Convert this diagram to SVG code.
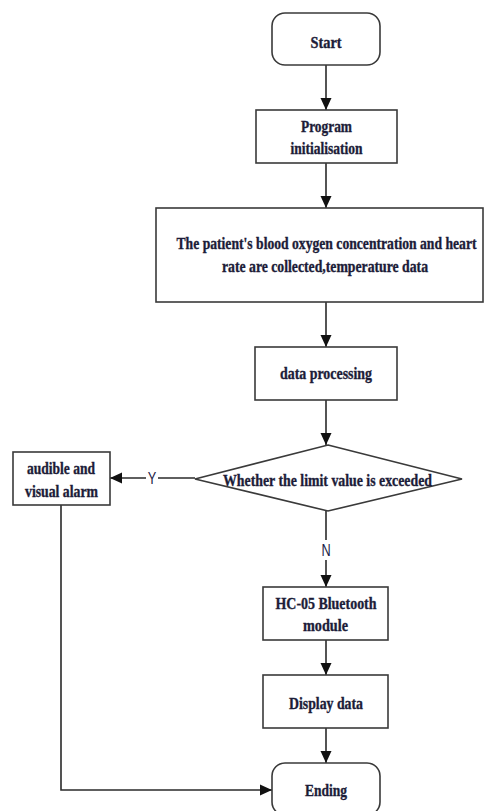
<svg xmlns="http://www.w3.org/2000/svg" width="485" height="811" viewBox="0 0 485 811">
<style>
.box{fill:#fff;stroke:#3a3a3a;stroke-width:1.6}
.t{font-family:"Liberation Serif",serif;font-weight:bold;font-size:16.5px;fill:#1c1c38;stroke:#1c1c38;stroke-width:0.35;text-anchor:middle;dominant-baseline:central}
.s{font-family:"Liberation Sans",sans-serif;font-size:17px;fill:#1c1c48;text-anchor:middle;dominant-baseline:central}
.c{fill:none;stroke:#2a2a2a;stroke-width:1.6}
</style>
<defs>
<marker id="ah" markerWidth="12" markerHeight="12" viewBox="0 0 12 12" refX="12" refY="6" orient="auto" markerUnits="userSpaceOnUse">
<path d="M0,0.5 L12,6 L0,11.5 Z" fill="#111"/>
</marker>
</defs>
<rect width="485" height="811" fill="#fff"/>
<g id="connectors">
<line class="c" x1="326" y1="65" x2="326" y2="110" marker-end="url(#ah)"/>
<line class="c" x1="326" y1="163" x2="326" y2="208" marker-end="url(#ah)"/>
<line class="c" x1="326" y1="302" x2="326" y2="347" marker-end="url(#ah)"/>
<line class="c" x1="326" y1="400" x2="326" y2="445" marker-end="url(#ah)"/>
<line class="c" x1="195" y1="478" x2="158" y2="478"/>
<line class="c" x1="146" y1="478" x2="110" y2="478" marker-end="url(#ah)"/>
<text class="s" x="152" y="478" transform="translate(152 0) scale(0.75 1) translate(-152 0)">Y</text>
<line class="c" x1="326" y1="511" x2="326" y2="540"/>
<text class="s" x="326" y="550" transform="translate(326 0) scale(0.75 1) translate(-326 0)">N</text>
<line class="c" x1="326" y1="560" x2="326" y2="587" marker-end="url(#ah)"/>
<line class="c" x1="326" y1="640" x2="326" y2="675" marker-end="url(#ah)"/>
<line class="c" x1="326" y1="728" x2="326" y2="763" marker-end="url(#ah)"/>
<polyline class="c" points="61,505 61,790 272,790" marker-end="url(#ah)"/>
</g>
<g id="start">
<rect class="box" x="272" y="13" width="108" height="52" rx="13"/>
<text class="t" x="326" y="42" textLength="31" lengthAdjust="spacingAndGlyphs">Start</text>
</g>
<g id="init">
<rect class="box" x="256" y="110" width="141" height="53"/>
<text class="t" x="326.5" y="126" textLength="51" lengthAdjust="spacingAndGlyphs">Program</text>
<text class="t" x="326.5" y="148" textLength="72" lengthAdjust="spacingAndGlyphs">initialisation</text>
</g>
<g id="collect">
<rect class="box" x="156" y="208" width="327" height="94"/>
<text class="t" x="326.5" y="243" textLength="300" lengthAdjust="spacingAndGlyphs">The patient's blood oxygen concentration and heart</text>
<text class="t" x="325" y="266" textLength="206" lengthAdjust="spacingAndGlyphs">rate are collected,temperature data</text>
</g>
<g id="process">
<rect class="box" x="255" y="347" width="142" height="53"/>
<text class="t" x="326" y="373" textLength="92" lengthAdjust="spacingAndGlyphs">data processing</text>
</g>
<g id="decision">
<polygon class="box" points="328,445 462,479 328,511 195,479"/>
<text class="t" x="327.5" y="480" textLength="209" lengthAdjust="spacingAndGlyphs">Whether the limit value is exceeded</text>
</g>
<g id="alarm">
<rect class="box" x="13" y="452" width="97" height="53"/>
<text class="t" x="61" y="468" textLength="68" lengthAdjust="spacingAndGlyphs">audible and</text>
<text class="t" x="61.5" y="491" textLength="73" lengthAdjust="spacingAndGlyphs">visual alarm</text>
</g>
<g id="bluetooth">
<rect class="box" x="263" y="587" width="125" height="53"/>
<text class="t" x="326" y="603" textLength="101" lengthAdjust="spacingAndGlyphs">HC-05 Bluetooth</text>
<text class="t" x="325.5" y="625" textLength="45" lengthAdjust="spacingAndGlyphs">module</text>
</g>
<g id="display">
<rect class="box" x="263" y="675" width="125" height="53"/>
<text class="t" x="326" y="703" textLength="74" lengthAdjust="spacingAndGlyphs">Display data</text>
</g>
<g id="ending">
<rect class="box" x="272" y="763" width="108" height="52" rx="13"/>
<text class="t" x="326" y="790" textLength="42" lengthAdjust="spacingAndGlyphs">Ending</text>
</g>
</svg>
